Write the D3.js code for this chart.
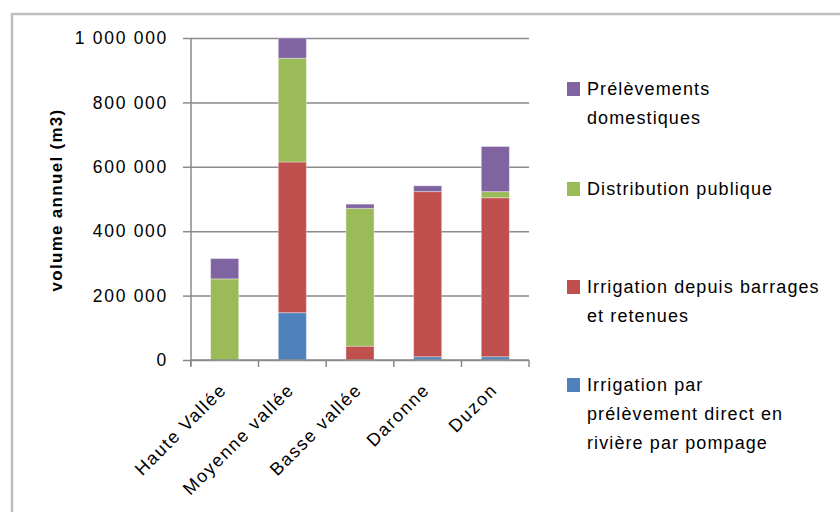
<!DOCTYPE html>
<html>
<head>
<meta charset="utf-8">
<script src="https://cdn.jsdelivr.net/npm/d3@7"></script>
<style>
body { margin: 0; background: #fff; }
text { font-family: "Liberation Sans", Arial, sans-serif; }
</style>
</head>
<body>
<svg width="840" height="512"></svg>
<script>
// categories and series (m3 per year)
var categories = ["Haute Vallée", "Moyenne vallée", "Basse vallée", "Daronne", "Duzon"];
var irrigationDirect = [0, 147000, 0, 10000, 10000];
var irrigationBarrages = [0, 468000, 43000, 513000, 494000];
var distributionPublique = [252000, 322000, 428000, 0, 19000];
var prelevementsDomestiques = [63000, 63000, 13000, 18000, 140000];
var yTicks = [0, 200000, 400000, 600000, 800000, 1000000];

var seriesKeys = ["direct", "barrages", "publique", "domestiques"];
var colors = ["#4f81bd", "#c0504d", "#9bbb59", "#8064a2"];
// legend lines, top to bottom
var legendLines = [
  ["Prélèvements", "domestiques"],
  ["Distribution publique"],
  ["Irrigation depuis barrages", "et retenues"],
  ["Irrigation par", "prélèvement direct en", "rivière par pompage"]
];

var svg = d3.select("svg");

// cadre du graphique
svg.append("rect")
  .attr("x", 12).attr("y", 14)
  .attr("width", 840).attr("height", 520)
  .attr("fill", "#fff")
  .attr("stroke", "#bfbfbf")
  .attr("stroke-width", 2.5);

var margin = {left: 191, top: 38, right: 529, bottom: 360};

var x = d3.scaleBand()
  .domain(categories)
  .range([margin.left, margin.right])
  .paddingInner(0.585)
  .paddingOuter(0.29);

var y = d3.scaleLinear()
  .domain([0, 1000000])
  .range([margin.bottom, margin.top]);

var fmt = function(d) { return d3.format(",")(d).replace(/,/g, " "); };

// grille + axe y
var gy = svg.append("g")
  .attr("transform", "translate(" + margin.left + ",0)")
  .call(d3.axisLeft(y).tickValues(yTicks).tickFormat(fmt)
    .tickSize(8).tickPadding(15));
gy.select(".domain").remove();
gy.selectAll(".tick line")
  .attr("stroke", "#8a8a8a").attr("stroke-width", 1.5);
gy.selectAll(".tick").append("line")
  .attr("x1", 0).attr("x2", margin.right - margin.left)
  .attr("stroke", "#8a8a8a").attr("stroke-width", 1.5);
gy.selectAll(".tick text")
  .attr("font-size", 17.5)
  .attr("letter-spacing", 1.7)
  .attr("fill", "#000");

// donnees empilees
var rows = categories.map(function(c, i) {
  return {cat: c, direct: irrigationDirect[i], barrages: irrigationBarrages[i],
    publique: distributionPublique[i], domestiques: prelevementsDomestiques[i]};
});
var stack = d3.stack().keys(seriesKeys)(rows);

svg.append("g").selectAll("g")
  .data(stack)
  .enter().append("g")
  .attr("fill", function(d, i) { return colors[i]; })
  .selectAll("rect")
  .data(function(d) { return d; })
  .enter().append("rect")
  .attr("x", function(d) { return x(d.data.cat); })
  .attr("width", x.bandwidth())
  .attr("y", function(d) { return y(d[1]); })
  .attr("height", function(d) { return y(d[0]) - y(d[1]); })
  .attr("stroke", "#fff")
  .attr("stroke-opacity", 0.35)
  .attr("stroke-width", 1);

// axe vertical
svg.append("line")
  .attr("x1", margin.left).attr("x2", margin.left)
  .attr("y1", margin.top).attr("y2", margin.bottom + 6)
  .attr("stroke", "#8a8a8a").attr("stroke-width", 1.5);

// axe x
svg.append("line")
  .attr("x1", margin.left).attr("x2", margin.right)
  .attr("y1", margin.bottom).attr("y2", margin.bottom)
  .attr("stroke", "#8a8a8a").attr("stroke-width", 1.5);

var step = x.step();
var bounds = categories.map(function(c) { return x(c) + x.bandwidth() / 2 - step / 2; });
bounds.push(margin.right);
svg.append("g").selectAll("line")
  .data(bounds)
  .enter().append("line")
  .attr("x1", function(d) { return d; }).attr("x2", function(d) { return d; })
  .attr("y1", margin.bottom).attr("y2", margin.bottom + 7)
  .attr("stroke", "#8a8a8a").attr("stroke-width", 1.5);

svg.append("g").selectAll("text")
  .data(categories)
  .enter().append("text")
  .attr("transform", function(d) {
    return "translate(" + (x(d) + x.bandwidth() / 2 + 3) + "," + (margin.bottom + 31) + ") rotate(-45)";
  })
  .attr("text-anchor", "end")
  .attr("font-size", 18)
  .attr("letter-spacing", 1.6)
  .attr("fill", "#000")
  .text(function(d) { return d; });

// titre axe y
svg.append("text")
  .attr("transform", "translate(62,200) rotate(-90)")
  .attr("text-anchor", "middle")
  .attr("font-size", 17)
  .attr("font-weight", "bold")
  .attr("letter-spacing", 1.3)
  .text("volume annuel  (m3)");

// legende
var legendY = [89, 189, 287, 385];
var legendColors = [colors[3], colors[2], colors[1], colors[0]];
var lg = svg.append("g").selectAll("g")
  .data(legendLines)
  .enter().append("g")
  .attr("transform", function(d, i) { return "translate(567," + legendY[i] + ")"; });
lg.append("rect")
  .attr("x", 0).attr("y", -7)
  .attr("width", 13).attr("height", 14)
  .attr("fill", function(d, i) { return legendColors[i]; });
lg.selectAll("text")
  .data(function(d) { return d; })
  .enter().append("text")
  .attr("x", 20)
  .attr("y", function(d, j) { return j * 29 + 6; })
  .attr("font-size", 18)
  .attr("letter-spacing", 1.1)
  .attr("fill", "#000")
  .text(function(d) { return d; });
</script>
</body>
</html>
